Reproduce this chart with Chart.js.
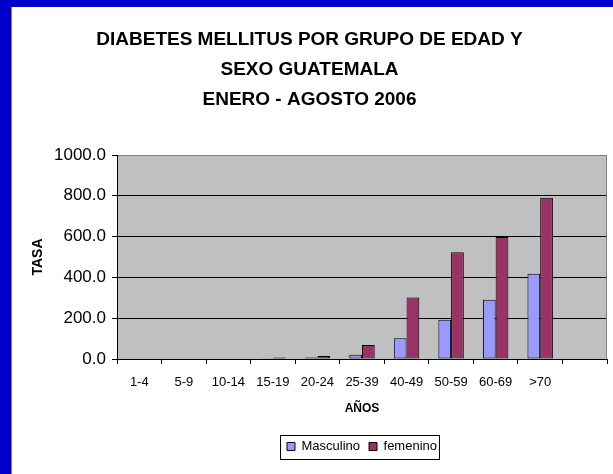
<!DOCTYPE html>
<html><head><meta charset="utf-8">
<script src="https://cdn.jsdelivr.net/npm/chart.js@4.4.0/dist/chart.umd.min.js"></script>
<style>
html,body{margin:0;padding:0;background:#0000CC;width:613px;height:474px;overflow:hidden}
#panel{position:absolute;left:11px;top:7px;width:602px;height:467px;background:#fff;border-left:1px solid #808080;box-sizing:border-box}
canvas{display:block}
</style></head><body>
<div id="panel"><canvas id="c" width="601" height="467"></canvas></div>
<script>
const categories = ['1-4','5-9','10-14','15-19','20-24','25-39','40-49','50-59','60-69','>70',''];
const masculino = [0,0,0,1,7,21,102,193,290,418,null];
const femenino  = [0,0,0,7,15,69,301,523,598,790,null];
const seriesNames = ['Masculino','femenino'];
const titleLines = ['DIABETES MELLITUS POR GRUPO DE EDAD Y','SEXO GUATEMALA','ENERO - AGOSTO 2006'];
const yMin = 0, yMax = 1000, yStep = 200;

Chart.defaults.font.family = "'Liberation Sans', Arial, sans-serif";
Chart.defaults.color = '#000';

const plotDeco = {
  id: 'plotDeco',
  beforeDraw(chart) {
    const {ctx, chartArea: a} = chart;
    ctx.save();
    ctx.fillStyle = '#C0C0C0';
    ctx.fillRect(a.left, a.top, a.right - a.left, a.bottom - a.top);
    ctx.restore();
  },
  afterDraw(chart) {
    const {ctx, chartArea: a} = chart;
    ctx.save();
    ctx.strokeStyle = '#808080';
    ctx.lineWidth = 1;
    ctx.beginPath();
    ctx.moveTo(Math.round(a.right) - 0.5, a.top);
    ctx.lineTo(Math.round(a.right) - 0.5, a.bottom);
    ctx.stroke();
    const hb = chart.legend && chart.legend.legendHitBoxes;
    if (hb && hb.length) {
      const first = hb[0], last = hb[hb.length - 1];
      const cy = first.top + first.height / 2;
      const x0 = Math.round(first.left - 7) + 0.5;
      const x1 = Math.round(last.left + last.width + 2) + 0.5;
      const y0 = Math.round(cy - 12) + 0.5;
      const y1 = Math.round(cy + 12) + 0.5;
      ctx.strokeStyle = '#000';
      ctx.strokeRect(x0, y0, x1 - x0, y1 - y0);
    }
    ctx.restore();
  }
};

new Chart(document.getElementById('c'), {
  type: 'bar',
  data: {
    labels: categories,
    datasets: [
      {label: seriesNames[0], data: masculino, backgroundColor: '#9999FF', borderColor: '#000', borderWidth: 1, borderSkipped: false},
      {label: seriesNames[1], data: femenino, backgroundColor: '#993366', borderColor: '#000', borderWidth: 1, borderSkipped: false}
    ]
  },
  options: {
    responsive: false,
    animation: false,
    devicePixelRatio: 1,
    layout: {padding: {left: 0, right: 6, top: 0, bottom: 11}},
    datasets: {bar: {categoryPercentage: 2/3.5, barPercentage: 1}},
    plugins: {
      title: {
        display: true, text: titleLines, color: '#000',
        font: {size: 19, weight: 'bold', lineHeight: 30/19},
        padding: {top: 18, bottom: 40}
      },
      legend: {
        display: true, position: 'bottom', fullSize: false,
        labels: {boxWidth: 8, boxHeight: 8, padding: 9, color: '#000', font: {size: 13}}
      },
      tooltip: {enabled: false}
    },
    scales: {
      x: {
        grid: {offset: true, drawOnChartArea: false, drawTicks: true, tickLength: 5, color: '#000'},
        border: {display: true, color: '#000', width: 1},
        ticks: {font: {size: 13}, color: '#000', padding: 11, maxRotation: 0, autoSkip: false},
        title: {display: true, text: 'AÑOS', font: {size: 12, weight: 'bold'}, color: '#000', padding: {top: 0, bottom: 15}},
        afterFit(s) { s.height = 72; }
      },
      y: {
        min: yMin, max: yMax,
        grid: {color: (c) => (c.tick && c.tick.value === yMax) ? '#808080' : '#000', tickColor: '#000', tickLength: 5, drawTicks: true},
        border: {display: true, color: '#000', width: 1},
        ticks: {stepSize: yStep, font: {size: 17}, color: '#000', padding: 6, callback: (v) => Number(v).toFixed(1)},
        title: {display: true, text: 'TASA', font: {size: 14, weight: 'bold'}, color: '#000', padding: {top: 18, bottom: 0}},
        afterFit(s) { s.width = 105; }
      }
    }
  },
  plugins: [plotDeco]
});
</script>
</body></html>
